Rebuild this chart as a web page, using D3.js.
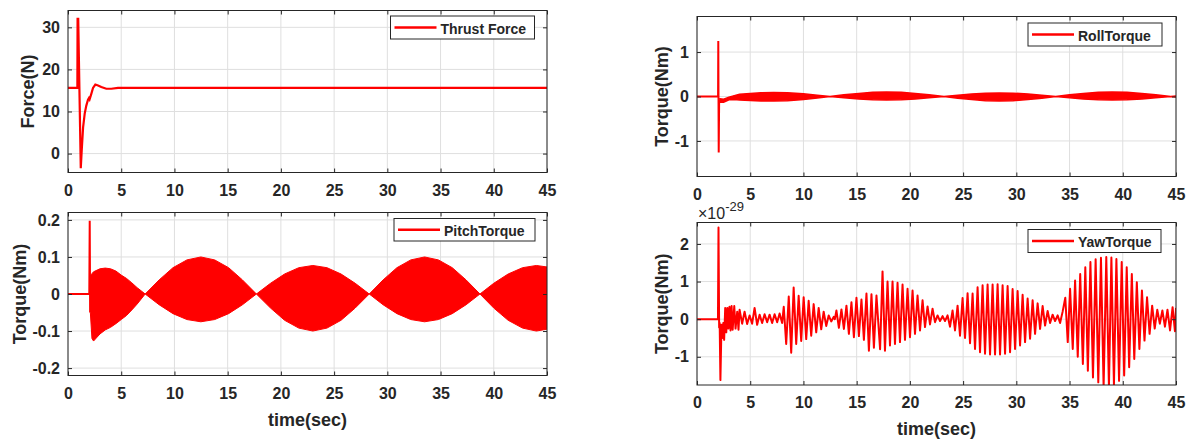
<!DOCTYPE html>
<html>
<head>
<meta charset="utf-8">
<script src="https://cdn.jsdelivr.net/npm/d3@7"></script>
<style>
  body { margin: 0; background: #fff; }
  svg text { font-family: "Liberation Sans", Arial, sans-serif; font-weight: bold; fill: #262626; }
</style>
</head>
<body>
<svg id="fig" width="1199" height="440"></svg>
<script>
// x ticks shared by every panel
var timeTicks = [0, 5, 10, 15, 20, 25, 30, 35, 40, 45];

// Thrust force (N)
var thrustTime  = [0, 0.88, 0.9, 0.96, 1.2, 1.29, 1.42, 1.57, 1.72, 1.88, 1.97, 2.03, 2.19, 2.35, 2.57, 2.82, 3.13, 3.6, 4.07, 4.7, 45];
var thrustForce = [15.6, 15.6, 32.0, 32.0, -3.5, 0.8, 6.3, 9.5, 11.4, 12.8, 13.2, 12.9, 14.2, 15.6, 16.4, 16.2, 15.8, 15.4, 15.4, 15.6, 15.6];

// Pitch torque: start transient, then the envelope of the fast oscillation
var pitchSpikeT = [0, 2.0, 2.04, 2.08, 2.1];
var pitchSpikeV = [0, 0, 0.198, -0.05, 0.05];
var pitchEnvT   = [2.1, 2.25, 2.4, 3.0, 3.5, 4.0, 4.5, 5.0, 5.5, 6.0, 6.5, 7.25,
                   8.56, 9.86, 11.17, 12.48, 13.78, 15.09, 16.39, 17.7,
                   19.03, 20.35, 21.68, 23.0, 24.33, 25.65, 26.98, 28.3,
                   29.6, 30.9, 32.2, 33.5, 34.8, 36.1, 37.4, 38.7,
                   40.0, 41.35, 42.7, 44.0, 45.0];
var pitchUpper  = [0.05, 0.055, 0.06, 0.068, 0.07, 0.068, 0.062, 0.051, 0.042, 0.03, 0.017, 0,
                   0.038, 0.071, 0.092, 0.1, 0.092, 0.071, 0.038, 0,
                   0.029, 0.054, 0.071, 0.077, 0.071, 0.054, 0.029, 0,
                   0.038, 0.071, 0.092, 0.1, 0.092, 0.071, 0.038, 0,
                   0.029, 0.054, 0.071, 0.077, 0.073];
var pitchLower  = [-0.05, -0.12, -0.127, -0.108, -0.097, -0.09, -0.08, -0.069, -0.058, -0.043, -0.027, 0,
                   -0.029, -0.053, -0.069, -0.075, -0.069, -0.053, -0.029, 0,
                   -0.038, -0.071, -0.092, -0.1, -0.092, -0.071, -0.038, 0,
                   -0.029, -0.053, -0.069, -0.075, -0.069, -0.053, -0.029, 0,
                   -0.038, -0.071, -0.092, -0.1, -0.095];

// Roll torque
var rollSpikeT = [0, 1.98, 2.0, 2.04, 2.08, 2.15];
var rollSpikeV = [0, 0, 1.25, -1.26, -0.1, -0.1];
var rollEnvT   = [2.15, 2.5, 3.0, 3.5, 4.0, 5.0, 6.0, 7.2, 8.5, 10.0, 11.3, 12.5,
                  13.8, 15.2, 16.5, 17.8, 19.2, 20.5, 21.8, 23.2,
                  24.5, 25.8, 27.1, 28.4, 29.7, 31.1, 32.4, 33.7,
                  35.0, 36.3, 37.7, 39.0, 40.4, 41.8, 43.1, 44.5, 45.0];
var rollUpper  = [-0.05, -0.06, -0.015, 0.02, 0.05, 0.07, 0.085, 0.09, 0.085, 0.06, 0.03, 0,
                  0.04, 0.07, 0.093, 0.1, 0.093, 0.07, 0.04, 0,
                  0.03, 0.057, 0.074, 0.08, 0.074, 0.057, 0.03, 0,
                  0.04, 0.07, 0.093, 0.1, 0.093, 0.07, 0.04, 0, 0.01];
var rollLower  = [-0.13, -0.13, -0.075, -0.07, -0.08, -0.09, -0.1, -0.1, -0.095, -0.07, -0.035, 0,
                  -0.03, -0.057, -0.074, -0.08, -0.074, -0.057, -0.03, 0,
                  -0.04, -0.07, -0.093, -0.1, -0.093, -0.07, -0.04, 0,
                  -0.03, -0.057, -0.074, -0.08, -0.074, -0.057, -0.03, 0, -0.01];

// Yaw torque (x1e-29), read peak by peak
var yawT = [0, 1.97, 2.02, 2.08, 2.13, 2.2, 2.3, 2.38, 2.47, 2.55, 2.65, 2.75, 2.85, 2.95, 3.05, 3.15, 3.25, 3.35, 3.5, 3.62, 3.78, 3.9,
  4.0, 4.24, 4.47, 4.71, 4.94, 5.18, 5.41, 5.65, 5.88, 6.12, 6.35, 6.59, 6.82, 7.06, 7.29, 7.53, 7.76, 8.0,
  8.15, 8.38, 8.62, 8.85, 9.08, 9.32, 9.55, 9.79, 10.02, 10.26, 10.49, 10.73, 10.96, 11.2, 11.43, 11.67, 11.9, 12.14, 12.37, 12.61, 12.84, 12.95,
  13.1, 13.33, 13.57, 13.8, 14.04, 14.27, 14.51, 14.74, 14.98, 15.21, 15.45, 15.68, 15.92, 16.15, 16.39, 16.62, 16.86, 17.2,
  17.43, 17.66, 17.9, 18.13, 18.37, 18.6, 18.84, 19.07, 19.31, 19.54, 19.78, 20.01, 20.25, 20.48, 20.72, 20.95, 21.19, 21.42, 21.66, 21.89,
  22.13, 22.36, 22.6, 22.83, 23.07, 23.3, 23.54, 23.77, 24.01, 24.24, 24.48, 24.71, 24.95, 25.18, 25.42, 25.65, 25.89, 26.12, 26.36, 26.59,
  26.83, 27.06, 27.3, 27.53, 27.77, 28.0, 28.24, 28.47, 28.71, 28.94, 29.18, 29.41, 29.65, 29.88, 30.12, 30.35, 30.59, 30.82, 31.06, 31.29,
  31.53, 31.76, 32.0, 32.23, 32.47, 32.7, 32.94, 33.17, 33.41, 33.64, 33.88, 34.11, 34.35, 34.6, 34.83, 35.05, 35.3, 35.52, 35.77, 36.0,
  36.25, 36.48, 36.72, 36.96, 37.2, 37.45, 37.7, 37.95, 38.2, 38.45, 38.7, 38.93, 39.17, 39.4, 39.65, 39.9, 40.13, 40.37, 40.6, 40.85,
  41.08, 41.32, 41.56, 41.8, 42.04, 42.28, 42.52, 42.76, 43.0, 43.24, 43.48, 43.72, 43.96, 44.2, 44.44, 44.68, 44.9, 45.0];
var yawV = [0, 0, 2.44, -0.22, -0.1, -1.62, -0.15, -0.5, -0.1, -0.55, 0.3, -0.35, 0.3, -0.25, 0.33, -0.3, 0.35, -0.28, 0.35, -0.25, 0.2, -0.28,
  0.25, -0.12, 0.2, -0.13, 0.1, -0.12, 0.3, -0.15, 0.12, -0.1, 0.13, -0.08, 0.12, -0.1, 0.13, -0.08, 0.15, -0.1,
  0.33, -0.66, 0.6, -0.89, 0.84, -0.66, 0.62, -0.58, 0.58, -0.53, 0.49, -0.44, 0.4, -0.35, 0.3, -0.27, 0.2, -0.18, 0.1, -0.06, 0.06, 0.0,
  0.23, -0.23, 0.26, -0.26, 0.36, -0.39, 0.45, -0.48, 0.57, -0.45, 0.52, -0.55, 0.68, -0.84, 0.66, -0.76, 0.63, -0.8,
  1.27, -0.84, 1.0, -0.7, 1.0, -0.66, 0.97, -0.61, 0.92, -0.55, 0.81, -0.48, 0.76, -0.39, 0.63, -0.3, 0.5, -0.21, 0.34, -0.14,
  0.28, -0.08, 0.1, -0.05, 0.08, -0.05, 0.1, -0.2, 0.23, -0.3, 0.36, -0.44, 0.56, -0.5, 0.69, -0.64, 0.68, -0.79, 0.85, -0.88,
  0.9, -0.92, 0.92, -0.94, 0.92, -0.94, 0.93, -0.94, 0.9, -0.92, 0.88, -0.88, 0.8, -0.79, 0.75, -0.7, 0.65, -0.61, 0.55, -0.52,
  0.5, -0.39, 0.42, -0.26, 0.35, -0.17, 0.22, -0.1, 0.12, -0.05, 0.1, -0.1, 0.2, 0.57, -0.61, 0.81, -0.79, 1.03, -1.0, 1.2,
  -1.19, 1.38, -1.37, 1.52, -1.55, 1.59, -1.68, 1.63, -1.8, 1.65, -1.8, 1.64, -1.75, 1.6, -1.64, 1.52, -1.5, 1.38, -1.28, 1.2,
  -1.06, 0.98, -0.79, 0.76, -0.57, 0.58, -0.39, 0.36, -0.25, 0.25, -0.12, 0.23, -0.2, 0.25, -0.3, 0.32, -0.32, 0.3];

var svg = d3.select("#fig");
var red = "#ff0000", dark = "#262626", gridCol = "#dfdfdf";

function zip(a, b) { return a.map(function (d, i) { return [d, b[i]]; }); }

function drawPanel(o) {
  var x = d3.scaleLinear().domain([0, 45]).range([o.x0, o.x1]);
  var y = d3.scaleLinear().domain(o.yDomain).range([o.y1, o.y0]);
  var g = svg.append("g");

  // grid
  g.selectAll(".gx").data(timeTicks).enter().append("line")
    .attr("x1", function (d) { return x(d); }).attr("x2", function (d) { return x(d); })
    .attr("y1", o.y0).attr("y2", o.y1).attr("stroke", gridCol);
  g.selectAll(".gy").data(o.yTicks).enter().append("line")
    .attr("y1", function (d) { return y(d); }).attr("y2", function (d) { return y(d); })
    .attr("x1", o.x0).attr("x2", o.x1).attr("stroke", gridCol);

  // clip + data
  svg.append("clipPath").attr("id", o.id).append("rect")
    .attr("x", o.x0).attr("y", o.y0).attr("width", o.x1 - o.x0).attr("height", o.y1 - o.y0);
  var plot = g.append("g").attr("clip-path", "url(#" + o.id + ")");
  o.draw(plot, x, y);

  // axes, ticks on all four sides (pointing in)
  var fmt = function (d) { return String(d); };
  var bx = g.append("g").attr("transform", "translate(0," + o.y1 + ")")
    .call(d3.axisBottom(x).tickValues(timeTicks).tickFormat(fmt).tickSizeInner(-4).tickSizeOuter(0).tickPadding(12));
  g.append("g").attr("transform", "translate(0," + o.y0 + ")")
    .call(d3.axisTop(x).tickValues(timeTicks).tickFormat("").tickSizeInner(-4).tickSizeOuter(0));
  var ly = g.append("g").attr("transform", "translate(" + o.x0 + ",0)")
    .call(d3.axisLeft(y).tickValues(o.yTicks).tickFormat(fmt).tickSizeInner(-4).tickSizeOuter(0).tickPadding(8));
  g.append("g").attr("transform", "translate(" + o.x1 + ",0)")
    .call(d3.axisRight(y).tickValues(o.yTicks).tickFormat("").tickSizeInner(-4).tickSizeOuter(0));
  g.selectAll(".domain").remove();
  g.selectAll(".tick line").attr("stroke", dark);
  bx.selectAll("text").style("font-size", "16px");
  ly.selectAll("text").style("font-size", "16px");
  g.append("rect").attr("x", o.x0).attr("y", o.y0)
    .attr("width", o.x1 - o.x0).attr("height", o.y1 - o.y0)
    .attr("fill", "none").attr("stroke", dark);

  // labels
  g.append("text")
    .attr("transform", "translate(" + o.ylabX + "," + ((o.y0 + o.y1) / 2) + ") rotate(-90)")
    .attr("text-anchor", "middle").attr("dominant-baseline", "central")
    .style("font-size", "18px").text(o.ylabel);
  if (o.xlabel) {
    g.append("text").attr("x", (o.x0 + o.x1) / 2).attr("y", o.y1 + 44)
      .attr("text-anchor", "middle").attr("dominant-baseline", "central")
      .style("font-size", "18px").text(o.xlabel);
  }

  // legend
  var L = o.legend;
  g.append("rect").attr("x", L.x).attr("y", L.y).attr("width", L.w).attr("height", L.h)
    .attr("fill", "#fff").attr("stroke", dark);
  g.append("line").attr("x1", L.x + 4).attr("x2", L.x + 46)
    .attr("y1", L.y + L.h / 2).attr("y2", L.y + L.h / 2)
    .attr("stroke", red).attr("stroke-width", 2.5);
  g.append("text").attr("x", L.x + 50).attr("y", L.y + L.h / 2 + 1)
    .attr("dominant-baseline", "central").style("font-size", "14px").text(L.text);
  return g;
}

// Thrust force
drawPanel({
  id: "c1", x0: 68, x1: 547, y0: 10.5, y1: 172.5,
  yDomain: [-4.5, 34], yTicks: [0, 10, 20, 30],
  ylabel: "Force(N)", ylabX: 28,
  legend: { x: 390.5, y: 16, w: 144, h: 23, text: "Thrust Force" },
  draw: function (p, x, y) {
    p.append("path").datum(zip(thrustTime, thrustForce))
      .attr("fill", "none").attr("stroke", red).attr("stroke-width", 2.2)
      .attr("d", d3.line().x(function (d) { return x(d[0]); }).y(function (d) { return y(d[1]); }));
  }
});

// Pitch torque
drawPanel({
  id: "c2", x0: 68, x1: 547, y0: 212.5, y1: 375.5,
  yDomain: [-0.22, 0.22], yTicks: [-0.2, -0.1, 0, 0.1, 0.2],
  ylabel: "Torque(Nm)", ylabX: 20, xlabel: "time(sec)",
  legend: { x: 394, y: 218.5, w: 141, h: 22.5, text: "PitchTorque" },
  draw: function (p, x, y) {
    p.append("path").datum(pitchEnvT.map(function (t, i) { return [t, pitchLower[i], pitchUpper[i]]; }))
      .attr("fill", red).attr("stroke", red).attr("stroke-width", 1)
      .attr("d", d3.area()
        .x(function (d) { return x(d[0]); })
        .y0(function (d) { return y(d[1]); }).y1(function (d) { return y(d[2]); }));
    p.append("path").datum(zip(pitchSpikeT, pitchSpikeV))
      .attr("fill", "none").attr("stroke", red).attr("stroke-width", 2)
      .attr("d", d3.line().x(function (d) { return x(d[0]); }).y(function (d) { return y(d[1]); }));
  }
});

// Roll torque
drawPanel({
  id: "c3", x0: 697, x1: 1176, y0: 16.5, y1: 176.5,
  yDomain: [-1.8, 1.8], yTicks: [-1, 0, 1],
  ylabel: "Torque(Nm)", ylabX: 662,
  legend: { x: 1028, y: 23, w: 134, h: 23, text: "RollTorque" },
  draw: function (p, x, y) {
    p.append("path").datum(rollEnvT.map(function (t, i) { return [t, rollLower[i], rollUpper[i]]; }))
      .attr("fill", red).attr("stroke", red).attr("stroke-width", 1.5)
      .attr("d", d3.area()
        .x(function (d) { return x(d[0]); })
        .y0(function (d) { return y(d[1]); }).y1(function (d) { return y(d[2]); }));
    p.append("path").datum(zip(rollSpikeT, rollSpikeV))
      .attr("fill", "none").attr("stroke", red).attr("stroke-width", 2)
      .attr("d", d3.line().x(function (d) { return x(d[0]); }).y(function (d) { return y(d[1]); }));
  }
});

// Yaw torque
var g4 = drawPanel({
  id: "c4", x0: 697, x1: 1176, y0: 222.5, y1: 385,
  yDomain: [-1.75, 2.57], yTicks: [-1, 0, 1, 2],
  ylabel: "Torque(Nm)", ylabX: 662, xlabel: "time(sec)",
  legend: { x: 1028, y: 229.5, w: 133, h: 23, text: "YawTorque" },
  draw: function (p, x, y) {
    p.append("path").datum(zip(yawT, yawV))
      .attr("fill", "none").attr("stroke", red).attr("stroke-width", 2)
      .attr("stroke-linejoin", "round")
      .attr("d", d3.line().x(function (d) { return x(d[0]); }).y(function (d) { return y(d[1]); }));
  }
});
var ex = g4.append("text").attr("x", 698).attr("y", 219).style("font-size", "16px").style("font-weight", "normal");
ex.append("tspan").text("\u00d710");
ex.append("tspan").attr("dy", -8).style("font-size", "13px").text("-29");
</script>
</body>
</html>
